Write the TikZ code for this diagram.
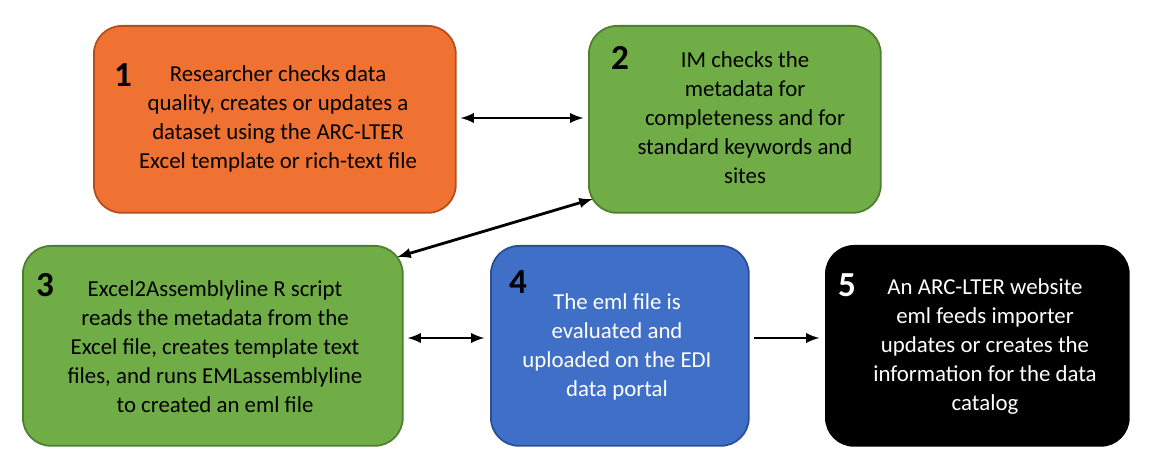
\documentclass[tikz,border=0pt]{standalone}
\usepackage{fontspec}
\setmainfont{Carlito}
\usetikzlibrary{positioning}
\definecolor{boxorange}{HTML}{F07233}
\definecolor{boxgreen}{HTML}{70AD47}
\definecolor{boxblue}{HTML}{3F6FC6}
\definecolor{edgeorange}{HTML}{B24E1C}
\definecolor{edgegreen}{HTML}{4E7E30}
\definecolor{edgeblue}{HTML}{2A4F94}

\begin{document}
\begin{tikzpicture}[>=latex,x=0.02cm,y=-0.02cm,
	stage/.style={draw,line width=1pt,rounded corners=16pt,anchor=north west,inner sep=0pt,
		align=center,font=\fontsize{13}{16.5}\selectfont},
	num/.style={anchor=center,font=\fontsize{20}{20}\selectfont\bfseries},
	link/.style={line width=1.6pt,<->,shorten >=2pt,shorten <=2pt}]

\useasboundingbox (0,0) rectangle (1155,465);

\node[stage,fill=boxorange,draw=edgeorange,minimum width=7.24cm,minimum height=3.74cm] (s1) at (93,25) {};
\node[stage,fill=boxgreen,draw=edgegreen,minimum width=5.84cm,minimum height=3.74cm] (s2) at (588,25) {};
\node[stage,fill=boxgreen,draw=edgegreen,minimum width=7.6cm,minimum height=4cm] (s3) at (22,245) {};
\node[stage,fill=boxblue,draw=edgeblue,minimum width=5.16cm,minimum height=4cm] (s4) at (490,245) {};
\node[stage,fill=black,draw=black,minimum width=6.06cm,minimum height=4cm] (s5) at (825,245) {};

% numbers
\node[num] (n1) at (123,75) {1};
\node[num] (n2) at (620,58) {2};
\node[num] (n3) at (45,285) {3};
\node[num] (n4) at (518,282) {4};
\node[num,text=white] (n5) at (847,285) {5};

% texts
\node[stage,anchor=center,draw=none] (t1) at (278,119) {Researcher checks data\\quality, creates or updates a\\dataset using the ARC-LTER\\Excel template or rich-text file};
\node[stage,anchor=center,draw=none] (t2) at (745,118) {IM checks the\\metadata for\\completeness and for\\standard keywords and\\sites};
\node[stage,anchor=center,draw=none] (t3) at (215,347) {Excel2Assemblyline R script\\reads the metadata from the\\Excel file, creates template text\\files, and runs EMLassemblyline\\to created an eml file};
\node[stage,anchor=center,draw=none,text=white] (t4) at (617,347) {The eml file is\\evaluated and\\uploaded on the EDI\\data portal};
\node[stage,anchor=center,draw=none,text=white] (t5) at (985,347) {An ARC-LTER website\\eml feeds importer\\updates or creates the\\information for the data\\catalog};

% connectors
\coordinate (a1) at (457,118); \coordinate (a2) at (587,118);
\coordinate (b1) at (596,198); \coordinate (b2) at (394,258);
\coordinate (c1) at (404,338); \coordinate (c2) at (488,338);
\coordinate (d1) at (750,338); \coordinate (d2) at (823,338);
\draw[link] (a1) -- (a2);
\draw[link] (b1) -- (b2);
\draw[link] (c1) -- (c2);
\draw[link,<-] (d2) -- (d1);
\end{tikzpicture}
\end{document}
